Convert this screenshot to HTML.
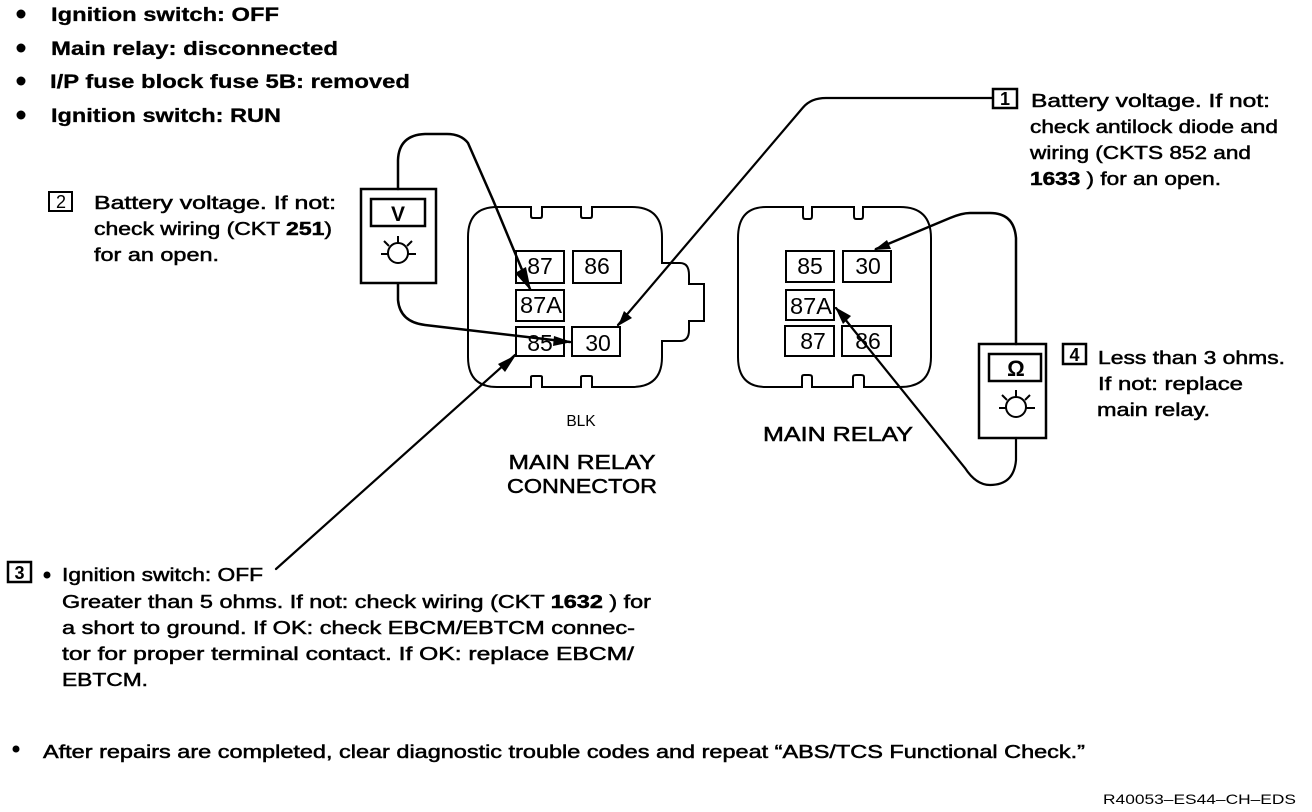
<!DOCTYPE html>
<html><head><meta charset="utf-8"><style>
html,body{margin:0;padding:0;background:#fff;width:1312px;height:812px;overflow:hidden}
svg{display:block}
text{font-family:"Liberation Sans",sans-serif;fill:#000}
.b{font-weight:bold;font-size:19px;stroke:#000;stroke-width:.3px}
.m{font-size:18px;stroke:#000;stroke-width:.5px}
.t{font-size:23px}
.l{fill:none;stroke:#000;stroke-width:2}
.k{fill:none;stroke:#000;stroke-width:2.5}
.n{font-size:18px;font-weight:bold}
</style></head><body>
<svg width="1312" height="812" viewBox="0 0 1312 812" xmlns="http://www.w3.org/2000/svg">
<!-- top list -->
<g fill="#000"><circle cx="21" cy="14" r="4.5"/><circle cx="21" cy="48" r="4.5"/><circle cx="21" cy="81" r="4.5"/><circle cx="21" cy="115" r="4.5"/></g>
<text class="b" x="51" y="21" textLength="228" lengthAdjust="spacingAndGlyphs">Ignition switch: OFF</text>
<text class="b" x="51" y="55" textLength="287" lengthAdjust="spacingAndGlyphs">Main relay: disconnected</text>
<text class="b" x="50" y="88" textLength="360" lengthAdjust="spacingAndGlyphs">I/P fuse block fuse 5B: removed</text>
<text class="b" x="51" y="122" textLength="230" lengthAdjust="spacingAndGlyphs">Ignition switch: RUN</text>

<!-- callout 1 -->
<rect x="993" y="89" width="24" height="19" class="k"/>
<text class="n" x="1005" y="105" text-anchor="middle">1</text>
<text class="m" x="1031" y="107" textLength="239" lengthAdjust="spacingAndGlyphs">Battery voltage.  If not:</text>
<text class="m" x="1030" y="133" textLength="248" lengthAdjust="spacingAndGlyphs">check antilock diode and</text>
<text class="m" x="1030" y="159" textLength="221" lengthAdjust="spacingAndGlyphs">wiring (CKTS 852 and</text>
<text class="m" x="1030" y="185" textLength="191" lengthAdjust="spacingAndGlyphs"><tspan font-weight="bold">1633</tspan> ) for an open.</text>

<!-- callout 2 -->
<rect x="49" y="192" width="23" height="19" class="l"/>
<text class="n" x="61" y="208" text-anchor="middle" style="font-weight:normal">2</text>
<text class="m" x="94" y="209" textLength="242" lengthAdjust="spacingAndGlyphs">Battery voltage.  If not:</text>
<text class="m" x="94" y="235" textLength="238" lengthAdjust="spacingAndGlyphs">check wiring (CKT <tspan font-weight="bold">251</tspan>)</text>
<text class="m" x="94" y="261" textLength="125" lengthAdjust="spacingAndGlyphs">for an open.</text>

<!-- callout 3 -->
<rect x="8" y="562" width="23" height="20" class="k"/>
<text class="n" x="19.500" y="579" text-anchor="middle">3</text>
<circle cx="47" cy="575" r="3.500" fill="#000"/>
<text class="m" x="62" y="581" textLength="201" lengthAdjust="spacingAndGlyphs">Ignition switch: OFF</text>
<text class="m" x="62" y="608" textLength="589" lengthAdjust="spacingAndGlyphs">Greater than 5 ohms. If not: check wiring (CKT <tspan font-weight="bold">1632</tspan> ) for</text>
<text class="m" x="62" y="634" textLength="573" lengthAdjust="spacingAndGlyphs">a short to ground. If OK: check EBCM/EBTCM connec-</text>
<text class="m" x="62" y="660" textLength="572" lengthAdjust="spacingAndGlyphs">tor for proper terminal contact. If OK: replace EBCM/</text>
<text class="m" x="62" y="686" textLength="86" lengthAdjust="spacingAndGlyphs">EBTCM.</text>

<!-- callout 4 -->
<rect x="1063" y="344" width="23" height="20" class="k"/>
<text class="n" x="1074.500" y="361" text-anchor="middle">4</text>
<text class="m" x="1098" y="364" textLength="187" lengthAdjust="spacingAndGlyphs">Less than 3 ohms.</text>
<text class="m" x="1098" y="390" textLength="145" lengthAdjust="spacingAndGlyphs">If not: replace</text>
<text class="m" x="1097" y="416" textLength="113" lengthAdjust="spacingAndGlyphs">main relay.</text>

<!-- left connector -->
<path class="l" d="M497 207H531V216Q531 218 533 218H540Q542 218 542 216V207H581V216Q581 218 583 218H590Q592 218 592 216V207H632Q662 207 662 237V263H680Q689 263 689 275V284H704V321H689V330Q689 341 680 341H662V357Q662 387 632 387H592V377Q592 376 590 376H583Q581 376 581 377V387H542V377Q542 376 540 376H533Q531 376 531 377V387H497Q468 387 468 357V237Q468 207 497 207Z"/>
<g class="l">
<rect x="516" y="251" width="48" height="32"/><rect x="573" y="251" width="48" height="32"/>
<rect x="516" y="290" width="48" height="31"/>
<rect x="516" y="327" width="48" height="29"/><rect x="572" y="327" width="48" height="29"/>
</g>
<g class="t" text-anchor="middle">
<text x="540" y="274">87</text><text x="597" y="274">86</text>
<text x="541" y="313" textLength="42" lengthAdjust="spacingAndGlyphs">87A</text>
<text x="540" y="351">85</text><text x="598" y="351">30</text>
</g>

<!-- right relay -->
<path class="l" d="M766 207H803V216Q803 219 805 219H810Q812 219 812 216V207H854V216Q854 219 856 219H861Q863 219 863 216V207H900Q931 207 931 238V357Q931 387 900 387H864V377Q864 375 861 375H856Q853 375 853 377V387H812V377Q812 375 809 375H804Q802 375 802 377V387H766Q738 387 738 357V238Q738 207 766 207Z"/>
<g class="l">
<rect x="786" y="251" width="48" height="31"/><rect x="843" y="251" width="48" height="31"/>
<rect x="786" y="290" width="48" height="30"/>
<rect x="785" y="326" width="49" height="30"/><rect x="842" y="326" width="49" height="30"/>
</g>
<g class="t" text-anchor="middle">
<text x="810" y="274">85</text><text x="868" y="274">30</text>
<text x="811" y="314" textLength="42" lengthAdjust="spacingAndGlyphs">87A</text>
<text x="813" y="349">87</text><text x="868" y="349">86</text>
</g>

<!-- voltmeter -->
<rect x="361" y="189" width="75" height="94" class="k"/>
<rect x="371" y="199" width="54" height="27" class="k"/>
<text x="398" y="221" text-anchor="middle" font-size="21" font-weight="bold">V</text>
<g class="l"><circle cx="398" cy="253" r="10"/><path d="M398 243V236M389 246L384 241M407 246L412 241M388 254H381M408 254H416"/></g>

<!-- ohmmeter -->
<rect x="979" y="344" width="67" height="94" class="k"/>
<rect x="989" y="354" width="52" height="27" class="k"/>
<text x="1016" y="376" text-anchor="middle" font-size="22" font-weight="bold">Ω</text>
<g class="l"><circle cx="1016" cy="407" r="10"/><path d="M1016 397V390M1007 400L1002 395M1025 400L1030 395M1006 408H999M1026 408H1035"/></g>

<!-- wires -->
<g fill="none" stroke="#000" stroke-linecap="round">
<path stroke-width="2.500" d="M398 189V160Q399 135 425 134H447Q461 134 468 143L493 200L530 289"/>
<path stroke-width="2.500" d="M398 284V300Q400 322 425 325L570 342"/>
<path stroke-width="2.200" d="M993 98H826Q811 98 803 107.500L618 325"/>
<path stroke-width="2.200" d="M276 569L515 355"/>
<path stroke-width="2.500" d="M1016 344V238Q1014 213 990 213H970Q962 213 950 218L876 249"/>
<path stroke-width="2.200" d="M1016 438V460Q1014 485 990 485Q976 485 965 468L836 308"/>
</g>
<g fill="#000">
<polygon points="531,291 515,273 526,267"/>
<polygon points="572,342 553,346 554,336"/>
<polygon points="618,326 624,311 632,318"/>
<polygon points="516,355 498,364 505,372"/>
<polygon points="874,250 887,240 891,249"/>
<polygon points="835,307 851,316 843,324"/>
</g>

<!-- labels -->
<text x="581" y="426" text-anchor="middle" font-size="15.500">BLK</text>
<text class="m" x="582" y="469" text-anchor="middle" textLength="147" lengthAdjust="spacingAndGlyphs" style="font-size:20px">MAIN RELAY</text>
<text class="m" x="582" y="493" text-anchor="middle" textLength="150" lengthAdjust="spacingAndGlyphs" style="font-size:20px">CONNECTOR</text>
<text class="m" x="838" y="441" text-anchor="middle" textLength="150" lengthAdjust="spacingAndGlyphs" style="font-size:20px">MAIN RELAY</text>

<!-- footer -->
<circle cx="16" cy="749" r="3.500" fill="#000"/>
<text class="m" x="43" y="758" textLength="1042" lengthAdjust="spacingAndGlyphs">After repairs are completed, clear diagnostic trouble codes and repeat “ABS/TCS Functional Check.”</text>
<text x="1296" y="804" text-anchor="end" font-size="14" textLength="193" lengthAdjust="spacingAndGlyphs">R40053–ES44–CH–EDS</text>
</svg>
</body></html>
